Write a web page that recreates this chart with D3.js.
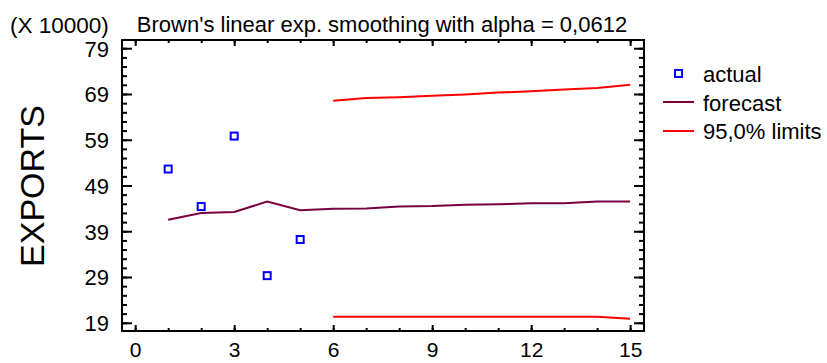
<!DOCTYPE html>
<html><head><meta charset="utf-8">
<script src="https://cdn.jsdelivr.net/npm/d3@7/dist/d3.min.js"></script>
<style>body{margin:0;background:#fff}svg{display:block}text{font-family:"Liberation Sans",Arial,sans-serif;fill:#000}</style>
</head><body>
<svg id="c" width="827" height="363"></svg>
<script>
const periods = [1,2,3,4,5,6,7,8,9,10,11,12,13,14,15];
const actualPeriods = [1,2,3,4,5];
const actual = [526000, 444000, 598000, 293000, 372000];
const forecast = [415000, 430000, 432000, 455000, 436000, 439000, 440000, 444000, 445000, 448000, 449000, 451000, 451000, 455000, 455000];
const limitPeriods = [6,7,8,9,10,11,12,13,14,15];
const upper = [675000, 681000, 683000, 686000, 689000, 693000, 696000, 700000, 703000, 710000];
const lower = [203000, 203000, 203000, 203000, 203000, 203000, 203000, 203000, 203000, 199000];
const xTicks = [0,3,6,9,12,15];
const yTicks = [190000,290000,390000,490000,590000,690000,790000];
const title = "Brown's linear exp. smoothing with alpha = 0,0612";
const yTitle = "EXPORTS";
const scaleNote = "(X 10000)";
const legendLabels = ["actual","forecast","95,0% limits"];

const svg = d3.select("#c");
const L=122,R=644,T=40,B=331;
const x = d3.scaleLinear().domain([-0.40,15.42]).range([L,R]);
const y = d3.scaleLinear().domain([172000,808000]).range([B,T]);

const g = svg.append("g");
const minorX = d3.range(0,16,1);
const minorY = d3.range(190000,800000,20000);
function addAxis(axis){ return g.append("g").call(axis).call(s=>s.select(".domain").remove()); }
const fmtY = d => d3.format("d")(d/10000);
const bx = addAxis(d3.axisBottom(x).tickValues(xTicks).tickSize(-6).tickPadding(11).tickFormat(d3.format("d")));
bx.attr("transform",`translate(0,${B})`);
bx.selectAll("text").style("font-size","21px").attr("dy","0.71em");
const bxm = addAxis(d3.axisBottom(x).tickValues(minorX).tickSize(-3).tickFormat(""));
bxm.attr("transform",`translate(0,${B})`);
const tx = addAxis(d3.axisTop(x).tickValues(xTicks).tickSize(-6).tickFormat(""));
tx.attr("transform",`translate(0,${T})`);
const txm = addAxis(d3.axisTop(x).tickValues(minorX).tickSize(-3).tickFormat(""));
txm.attr("transform",`translate(0,${T})`);
const ly = addAxis(d3.axisLeft(y).tickValues(yTicks).tickSize(-10).tickPadding(13).tickFormat(fmtY));
ly.attr("transform",`translate(${L},0)`);
ly.selectAll("text").style("font-size","22px").attr("dy","0.36em");
const lym = addAxis(d3.axisLeft(y).tickValues(minorY).tickSize(-5).tickFormat(""));
lym.attr("transform",`translate(${L},0)`);
const ry = addAxis(d3.axisRight(y).tickValues(yTicks).tickSize(-10).tickFormat(""));
ry.attr("transform",`translate(${R},0)`);
const rym = addAxis(d3.axisRight(y).tickValues(minorY).tickSize(-5).tickFormat(""));
rym.attr("transform",`translate(${R},0)`);
g.selectAll(".tick line").attr("stroke","#000").attr("stroke-width",2);

g.append("rect").attr("x",L).attr("y",T).attr("width",R-L).attr("height",B-T)
 .attr("fill","none").attr("stroke","#000").attr("stroke-width",2);

const line = d3.line().x(d=>x(d[0])).y(d=>y(d[1]));
const fcCol = "#7a0040", limCol = "#ff0000", actCol = "#0000ff";
g.append("path").datum(periods.map((p,i)=>[p,forecast[i]])).attr("d",line)
 .attr("fill","none").attr("stroke",fcCol).attr("stroke-width",2);
g.append("path").datum(limitPeriods.map((p,i)=>[p,upper[i]])).attr("d",line)
 .attr("fill","none").attr("stroke",limCol).attr("stroke-width",2);
g.append("path").datum(limitPeriods.map((p,i)=>[p,lower[i]])).attr("d",line)
 .attr("fill","none").attr("stroke",limCol).attr("stroke-width",2);
g.selectAll(".pt").data(actualPeriods.map((p,i)=>[p,actual[i]])).enter().append("rect")
 .attr("x",d=>x(d[0])-3.5).attr("y",d=>y(d[1])-3.5).attr("width",7).attr("height",7)
 .attr("fill","#fff").attr("stroke",actCol).attr("stroke-width",2);

svg.append("text").attr("x",382).attr("y",32).attr("text-anchor","middle").style("font-size","22px").text(title);
svg.append("text").attr("x",10).attr("y",33).style("font-size","22.5px").text(scaleNote);
svg.append("text").attr("transform","translate(44,186) rotate(-90)").attr("text-anchor","middle")
 .style("font-size","34px").text(yTitle);

const lg = svg.append("g");
lg.append("rect").attr("x",675).attr("y",70).attr("width",7).attr("height",7).attr("fill","#fff").attr("stroke",actCol).attr("stroke-width",2);
lg.append("line").attr("x1",663).attr("x2",694).attr("y1",102).attr("y2",102).attr("stroke",fcCol).attr("stroke-width",2);
lg.append("line").attr("x1",663).attr("x2",694).attr("y1",131).attr("y2",131).attr("stroke",limCol).attr("stroke-width",2);
legendLabels.forEach((t,i)=>{
  lg.append("text").attr("x",703).attr("y",82+i*28.5).style("font-size","22px").text(t);
});
</script>
</body></html>
